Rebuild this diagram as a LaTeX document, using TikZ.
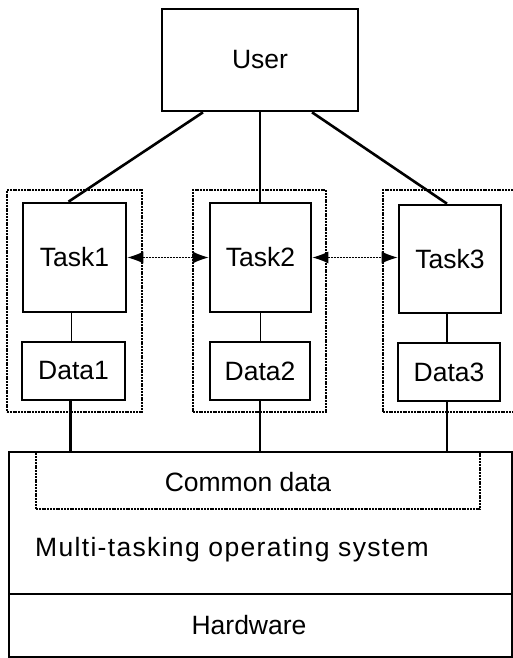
\documentclass[tikz,border=0pt]{standalone}
\usepackage{fontspec}
\setmainfont{Liberation Sans}
\usetikzlibrary{arrows.meta,positioning,calc}
\tikzset{
  >=Latex,
  box/.style={draw=black,line width=2.6pt,fill=white,align=center,font=\fontsize{26.5}{31}\selectfont,inner sep=0pt},
  group/.style={draw=black,line width=1.3pt,dash pattern=on 2pt off 0.8pt},
  link/.style={line width=2.6pt},
  msg/.style={{Latex[length=16pt,width=12pt]}-{Latex[length=16pt,width=12pt]},line width=1.4pt,dash pattern=on 2pt off 1pt},
  caption/.style={font=\fontsize{26.5}{31}\selectfont,inner sep=0pt}
}
\begin{document}
\begin{tikzpicture}[x=1pt,y=-1pt]
  \clip (0,0) rectangle (513,658);
  \fill[white] (0,0) rectangle (513,658);
  % task groups
  \node[group,minimum width=135,minimum height=222] (grp1) at (74.5,301) {};
  \node[group,minimum width=133,minimum height=222] (grp2) at (259.5,301) {};
  \node[group,minimum width=140,minimum height=222] (grp3) at (453,301) {};
  \node[box,minimum width=196,minimum height=102] (user) at (260,60) {User};
  \node[box,minimum width=103,minimum height=109] (task1) at (74.5,257.5) {Task1};
  \node[box,minimum width=101,minimum height=109] (task2) at (260.5,257.5) {Task2};
  \node[box,minimum width=102,minimum height=108] (task3) at (450,259) {Task3};
  \node[box,minimum width=103,minimum height=58] (data1) at (73.5,371) {Data1};
  \node[box,minimum width=100,minimum height=58] (data2) at (260,371) {Data2};
  \node[box,minimum width=102,minimum height=58] (data3) at (449,372) {Data3};
  % system layers
  \node[group,minimum width=444,minimum height=57] (common) at (258,480.5) {};
  \node[caption] (commontext) at (248,482) {Common data};
  \node[box,fill=none,minimum width=503,minimum height=142] (os) at (260.5,523) {};
  \node[caption,font=\fontsize{26.5}{31}\selectfont\addfontfeatures{LetterSpace=5}] (ostext) at (232,550) {Multi-tasking operating system};
  \node[box,minimum width=503,minimum height=63] (hw) at (260.5,625.5) {};
  \node[caption] (hwtext) at (249,625) {Hardware};
  % connections
  \draw[link] ([xshift=-57]user.south) -- ([xshift=-6]task1.north);
  \draw[link] (user.south) -- (user.south |- task2.north);
  \draw[link] ([xshift=52]user.south) -- ([xshift=-3]task3.north);
  \draw[msg] (task1.east) -- (task2.west);
  \draw[msg] (task2.east) -- (task2.east -| task3.west);
  \draw[line width=1.6pt] ([xshift=-3]task1.south) -- ([xshift=-3]task1.south |- data1.north);
  \draw[line width=1.6pt] (task2.south) -- (task2.south |- data2.north);
  \draw[line width=1.6pt] ([xshift=-3]task3.south) -- ([xshift=-3]task3.south |- data3.north);
  \draw[link] ([xshift=-3]data1.south) -- ([xshift=-3]data1.south |- os.north);
  \draw[link] (data2.south) -- (data2.south |- os.north);
  \draw[link] ([xshift=-2]data3.south) -- ([xshift=-2]data3.south |- os.north);
\end{tikzpicture}
\end{document}
